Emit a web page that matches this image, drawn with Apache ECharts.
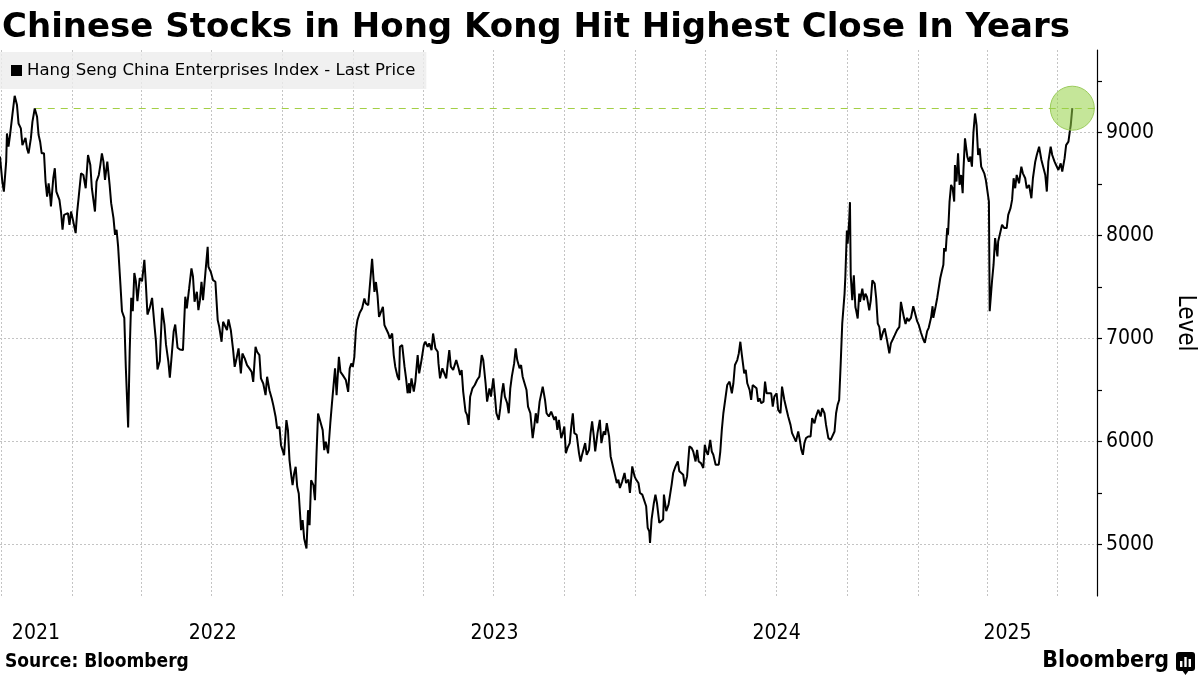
<!DOCTYPE html>
<html>
<head>
<meta charset="utf-8">
<script src="https://cdn.jsdelivr.net/npm/echarts@6/dist/echarts.min.js"></script>
<style>
  html, body { margin: 0; padding: 0; background: #fff; }
  #chart { width: 1200px; height: 675px; }
</style>
</head>
<body>
<div id="chart"></div>
<script>
// ---- Data ----
const titleText = 'Chinese Stocks in Hong Kong Hit Highest Close In Years';
const seriesName = 'Hang Seng China Enterprises Index - Last Price';
const sourceText = 'Source: Bloomberg';
const startDate = '2021-09-30';   // day 0 of the day offsets below
const endDate = '2025-08-21';     // end of the time axis
// [days since startDate, closing level]
const closes = [
[0,8765],[3,8523],[5,8426],[8,8716],[9,8990],[11,8861],[13,8974],[16,9168],[19,9355],[22,9265],
[24,9087],[27,9039],[29,8877],[31,8861],[33,8948],[35,8845],[37,8797],[40,8942],[42,9103],[45,9232],
[48,9152],[50,8974],[52,8910],[54,8797],[57,8797],[59,8523],[61,8377],[63,8506],[65,8377],[66,8281],
[69,8555],[71,8652],[73,8426],[77,8345],[79,8232],[81,8055],[83,8200],[88,8216],[90,8103],[92,8232],
[94,8168],[98,8023],[100,8232],[102,8377],[105,8603],[108,8587],[111,8458],[114,8781],[117,8684],[119,8458],
[123,8232],[125,8523],[128,8587],[130,8684],[132,8797],[134,8716],[136,8539],[139,8716],[142,8490],[144,8313],
[147,8168],[149,8006],[151,8055],[153,7893],[156,7522],[158,7264],[161,7200],[163,6716],[166,6135],[168,6877],
[170,7394],[172,7264],[174,7635],[176,7555],[178,7361],[181,7587],[184,7555],[187,7764],[189,7522],[191,7232],
[194,7297],[197,7394],[200,7135],[202,6974],[204,6700],[207,6781],[210,7297],[213,7135],[215,6942],[218,6781],
[220,6619],[222,6797],[225,7071],[227,7135],[230,6910],[233,6893],
[237,6887],[240,7405],[242,7291],[245,7485],[246,7469],[248,7680],[250,7599],[252,7356],[255,7453],[257,7275],
[259,7372],[261,7550],[263,7372],[266,7631],[269,7890],[270,7696],[273,7647],[276,7566],[279,7550],[282,7178],
[284,7113],[287,6968],[289,7162],[291,7178],[294,7081],[296,7184],[299,7081],[302,6887],[304,6725],[306,6790],
[309,6903],[312,6660],[314,6854],[317,6806],[320,6741],[323,6709],[326,6676],[328,6579],[331,6919],[333,6871],
[336,6838],[338,6612],[341,6563],[344,6450],[346,6628],[349,6498],[352,6418],[354,6353],[357,6240],[359,6126],
[362,6142],[364,5964],[366,5916],[368,5867],[371,6207],[373,6110],[375,5819],[377,5689],[379,5576],[381,5689],
[383,5754],[385,5560],[387,5495],[390,5139],[392,5236],[394,5058],[397,4961],[399,5333],[401,5188],[403,5624],
[406,5576],[408,5430],[410,5884],[412,6272],[415,6191],[418,6110],[420,5916],[422,5997],[425,5884],[428,6191],
[430,6369],[432,6385],[434,6709],[436,6450],[439,6822],[441,6676],[444,6644],[446,6628],[448,6596],[451,6482],
[453,6709],[455,6757],[457,6725],[459,6822],[461,7081],[463,7178],
[466,7250],[469,7290],[472,7387],[474,7339],[477,7323],[479,7323],[482,7774],[485,7452],[487,7548],[489,7419],
[491,7210],[493,7194],[496,7306],[498,7129],[500,7097],[503,7048],[505,7000],[508,7048],[510,6839],[512,6726],
[515,6629],[517,6597],[518,6919],[521,6935],[524,6726],[526,6613],[528,6468],[530,6565],[531,6468],[533,6613],
[536,6484],[538,6581],[541,6839],[543,6661],[546,6790],[549,6935],[551,6968],[554,6919],[556,6952],[559,6887],
[561,7048],[564,6903],[567,6871],[568,6758],[570,6613],[573,6710],[575,6694],[578,6613],[580,6758],[582,6887],
[584,6726],[587,6694],[589,6694],[591,6790],[594,6710],[596,6645],[598,6694],[600,6484],[603,6290],[605,6258],
[607,6161],[609,6435],[612,6516],[615,6548],[618,6597],[621,6629],[624,6839],[626,6790],[629,6565],[631,6387],
[634,6516],[636,6435],[639,6613],[641,6452],[643,6274],[646,6210],[648,6323],[650,6468],[652,6565],[654,6435],
[657,6371],[659,6274],[661,6516],[663,6629],[666,6758],[668,6903],[670,6790],[673,6710],[675,6742],[677,6629],
[679,6629],[682,6500],[684,6339],[687,6274],[689,6113],[690,6032],[692,6145],[694,6274],[696,6177],[699,6387],
[701,6387],[703,6532],
[706,6403],[708,6274],[711,6242],[714,6290],[716,6306],[718,6210],[720,6242],[722,6113],[724,6210],[727,6032],
[729,6081],[731,6145],[733,5887],[735,5935],[738,5984],[740,6145],[742,6274],[744,6081],[747,6065],[750,5887],
[752,5806],[754,5871],[756,5887],[758,5984],[760,5871],[763,5919],[765,6081],[767,6194],[769,6065],[771,5903],
[774,6081],[777,6210],[779,5984],[782,6097],[784,6065],[786,6177],[789,6048],[791,5855],[794,5758],[797,5661],
[799,5597],[801,5629],[803,5548],[806,5613],[809,5694],[811,5597],[814,5629],[816,5500],[819,5758],[822,5661],
[824,5629],[827,5597],[829,5500],[832,5484],[834,5468],[837,5371],[839,5161],[841,5129],[842,5016],[844,5242],
[847,5403],[849,5484],[851,5403],[854,5210],[856,5226],[859,5242],[860,5484],[863,5323],[866,5387],[868,5484],
[870,5581],[872,5694],[875,5758],[878,5806],[880,5710],[882,5726],[885,5677],[887,5565],[890,5661],[893,5952],
[896,5935],[898,5903],[901,5806],[903,5919],[905,5806],[908,5790],[911,5742],[913,5968],[915,5903],[917,5871],
[920,6016],[922,5903],[924,5871],[927,5774],[929,5758],[931,5774],
[933,5900],[935,6113],[937,6274],[939,6290],[942,6548],[945,6581],[948,6468],[950,6565],[952,6742],[955,6790],
[957,6855],[959,6968],[961,6839],[964,6661],[966,6694],[968,6565],[971,6500],[973,6403],[975,6548],[977,6548],
[980,6516],[982,6387],[984,6419],[986,6371],[989,6387],[991,6581],[993,6468],[996,6468],[999,6468],[1001,6339],
[1003,6435],[1006,6468],[1008,6306],[1011,6274],[1013,6532],[1016,6403],[1019,6306],[1021,6242],[1024,6161],[1026,6081],
[1029,6032],[1031,6000],[1034,6097],[1036,6016],[1038,5919],[1040,5871],[1042,5984],[1044,6032],[1047,6048],[1050,6048],
[1052,6226],[1055,6177],[1057,6242],[1060,6306],[1063,6242],[1065,6323],[1068,6274],[1070,6161],[1073,6032],[1076,6016],
[1078,6000],[1081,6097],[1083,6274],[1085,6355],[1087,6403],[1089,6758],[1091,7145],[1094,7435],[1095,7597],[1097,8048],
[1098,7919],[1100,8145],[1101,8323],[1102,7613],[1104,7371],[1106,7613],[1108,7306],[1109,7274],[1111,7194],[1113,7435],
[1114,7355],[1117,7484],[1119,7371],[1121,7435],[1123,7403],[1126,7274],[1128,7371],[1130,7565],[1133,7532],[1135,7387],
[1137,7145],[1139,7113],[1141,6984],[1144,7065],[1146,7097],[1149,6984],[1152,6855],[1154,6952],[1157,7000],[1159,7032],
[1162,7081],[1165,7113],
[1167,7355],[1169,7355],[1171,7200],[1173,7140],[1175,7200],[1177,7168],[1180,7200],[1183,7313],[1185,7297],[1188,7168],
[1190,7135],[1193,7055],[1196,6990],[1198,6958],[1201,7071],[1203,7103],[1206,7200],[1208,7313],[1209,7200],[1212,7313],
[1214,7393],[1216,7409],[1218,7587],[1220,7652],[1222,7716],[1223,7877],[1225,7845],[1227,8071],[1228,8006],[1230,8329],
[1232,8490],[1234,8458],[1236,8329],[1237,8684],[1239,8523],[1241,8797],[1243,8490],[1245,8587],[1247,8410],[1248,8635],
[1250,8942],[1253,8765],[1255,8716],[1257,8765],[1259,8668],[1261,9006],[1263,9184],[1265,9071],[1267,8781],[1269,8845],
[1271,8668],[1273,8652],[1275,8603],[1277,8539],[1279,8523],[1281,8329],[1282,7264],[1284,7458],[1285,7555],[1287,7716],
[1289,7974],[1292,7797],[1293,7942],[1296,8039],[1298,8103],[1301,8071],[1304,8071],[1306,8200],[1309,8265],[1311,8345],
[1313,8555],[1315,8458],[1317,8587],[1320,8506],[1323,8668],[1325,8603],[1328,8555],[1330,8458],[1333,8490],[1336,8361],
[1338,8555],[1341,8716],[1343,8781],[1346,8861],[1349,8732],[1351,8716],[1354,8587],[1356,8426],[1358,8716],[1361,8861],
[1363,8781],[1366,8716],[1368,8684],[1371,8635],[1374,8700],[1376,8619],[1379,8748],[1381,8877],[1384,8910],[1386,9023],
[1387,9071],[1389,9235]
];
const prevHighDay = 45;  // earlier close at about the same level as the latest close
const quarterStarts = ['2021-10-01','2022-01-01','2022-04-01','2022-07-01','2022-10-01','2023-01-01','2023-04-01',
  '2023-07-01','2023-10-01','2024-01-01','2024-04-01','2024-07-01','2024-10-01','2025-01-01','2025-04-01','2025-07-01'];
const gridLevels = [5000, 6000, 7000, 8000, 9000];
const tickLevels = [5000, 5500, 6000, 6500, 7000, 7500, 8000, 8500, 9000, 9500];
const labelLevels = [5000, 6000, 7000, 8000, 9000];
const yearLabels = [2021, 2022, 2023, 2024, 2025];

// ---- Build ----
const DAY = 86400000;
const parseDate = s => { const p = s.split('-').map(Number); return Date.UTC(p[0], p[1] - 1, p[2]); };
const t0 = parseDate(startDate);
const t1 = parseDate(endDate);
const toTime = d => t0 + d * DAY;
const lineData = closes.map(c => [toTime(c[0]), c[1]]);
const last = lineData[lineData.length - 1];
const yearCenters = yearLabels.map(y => {
  const s = Math.max(t0, Date.UTC(y, 0, 1));
  const e = Math.min(t1, Date.UTC(y + 1, 0, 1));
  return (s + e) / 2;
});

const gridStyle = { color: '#c4c4c4', width: 1, type: [2, 2] };
const markLines = [];
quarterStarts.forEach(q => markLines.push({ xAxis: parseDate(q), lineStyle: gridStyle }));
gridLevels.forEach(v => markLines.push({ yAxis: v, lineStyle: gridStyle }));
markLines.push([
  { coord: [toTime(prevHighDay), last[1]], lineStyle: { color: '#a3cf45', width: 1.2, type: [7, 6] } },
  { coord: [t1, last[1]] }
]);

const condensed = 'DejaVu Sans Condensed, DejaVu Sans, sans-serif';
const chart = echarts.init(document.getElementById('chart'));
chart.setOption({
  animation: false,
  backgroundColor: '#fff',
  title: [
    { text: titleText, left: 2, top: 11, padding: 0,
      textStyle: { fontFamily: 'DejaVu Sans', fontWeight: 'bold', fontSize: 34, color: '#000' } },
    { text: sourceText, left: 5, top: 653, padding: 0,
      textStyle: { fontFamily: condensed, fontWeight: 'bold', fontSize: 19, color: '#000' } },
    { text: 'Bloomberg', right: 31, top: 650, padding: 0,
      textStyle: { fontFamily: condensed, fontWeight: 'bold', fontSize: 23, color: '#000' } }
  ],
  legend: {
    data: [{ name: seriesName, icon: 'rect' }],
    left: 0, top: 52,
    itemWidth: 11, itemHeight: 11,
    padding: [10, 11, 10, 11],
    backgroundColor: 'rgba(236,236,236,0.8)',
    selectedMode: false,
    textStyle: { fontFamily: 'DejaVu Sans', fontSize: 16.5, color: '#000' }
  },
  grid: { left: 0, right: 103, top: 50, bottom: 79, containLabel: false, outerBoundsMode: 'none' },
  xAxis: {
    type: 'value', min: t0, max: t1,
    axisLine: { show: false }, axisTick: { show: false }, splitLine: { show: false },
    axisLabel: {
      customValues: yearCenters,
      formatter: v => String(new Date(v).getUTCFullYear()),
      fontFamily: condensed, fontSize: 21, color: '#000', margin: 27
    }
  },
  yAxis: {
    type: 'value', position: 'right', min: 4500, max: 9800,
    splitLine: { show: false },
    axisLine: { show: true, lineStyle: { color: '#000', width: 1.2 } },
    axisTick: { show: true, length: 5, customValues: tickLevels, lineStyle: { color: '#000', width: 1.2 } },
    axisLabel: { customValues: labelLevels, formatter: v => String(v),
      fontFamily: condensed, fontSize: 21, color: '#000', margin: 9 },
    name: 'Level', nameLocation: 'middle', nameRotate: -90, nameGap: 76,
    nameTextStyle: { fontFamily: condensed, fontSize: 24, color: '#000' }
  },
  series: [{
    name: seriesName,
    type: 'line',
    data: lineData,
    showSymbol: false,
    z: 3,
    itemStyle: { color: '#000' },
    lineStyle: { color: '#000', width: 2 },
    markLine: { silent: true, symbol: ['none', 'none'], z: 1, label: { show: false }, data: markLines },
    markPoint: {
      silent: true, z: 4,
      data: [{ coord: last, symbol: 'circle', symbolSize: 44,
        itemStyle: { color: 'rgba(150,210,70,0.55)', borderColor: '#9bcb5c', borderWidth: 1 },
        label: { show: false } }]
    }
  }],
  graphic: [{
    type: 'group', right: 5, top: 652,
    children: [
      { type: 'rect', shape: { x: 0, y: 0, width: 19, height: 19, r: 3 }, style: { fill: '#000' } },
      { type: 'polygon', shape: { points: [[6, 18], [13, 18], [9.5, 23]] }, style: { fill: '#000' } },
      { type: 'rect', shape: { x: 4, y: 9, width: 2.4, height: 6 }, style: { fill: '#fff' } },
      { type: 'rect', shape: { x: 8.3, y: 5, width: 2.4, height: 10 }, style: { fill: '#fff' } },
      { type: 'rect', shape: { x: 12.6, y: 7, width: 2.4, height: 8 }, style: { fill: '#fff' } }
    ]
  }]
});
</script>
</body>
</html>
